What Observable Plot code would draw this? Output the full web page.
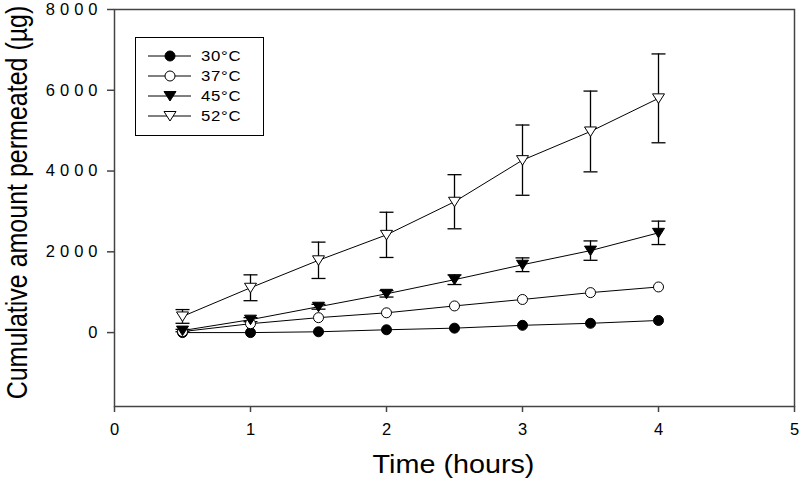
<!DOCTYPE html>
<html><head><meta charset="utf-8">
<script src="https://cdn.jsdelivr.net/npm/d3@7"></script>
<script src="https://cdn.jsdelivr.net/npm/@observablehq/plot@0.6"></script>
<style>
body{margin:0;background:#fff}
#chart svg [aria-label="y-axis tick label"] text{letter-spacing:5px}
</style>
</head><body><div id="chart"></div>
<script>
const times = [0.5, 1, 1.5, 2, 2.5, 3, 3.5, 4];
const seriesNames = ["30°C", "37°C", "45°C", "52°C"];
const mean30 = [0, 0, 20, 70, 110, 180, 230, 300];
const mean37 = [25, 220, 370, 490, 660, 820, 990, 1130];
const mean45 = [50, 320, 640, 960, 1310, 1680, 2030, 2470];
const mean52 = [400, 1110, 1790, 2420, 3240, 4270, 4980, 5800];
const err45 = [30, 50, 60, 80, 120, 170, 240, 290];
const err52 = [170, 320, 450, 560, 670, 870, 1000, 1100];
const xTicks = [0, 1, 2, 3, 4, 5];
const yTicks = [0, 2000, 4000, 6000, 8000];
const xLabel = "Time (hours)";
const yLabel = "Cumulative amount permeated (µg)";

const triDown = {draw(c){c.moveTo(-6,-4.5);c.lineTo(6,-4.5);c.lineTo(0,5);c.closePath();}};
const circ = {draw(c){c.moveTo(5,0);c.arc(0,0,5,0,2*Math.PI);c.closePath();}};
const cap = {draw(c){c.moveTo(-7,0);c.lineTo(7,0);}};

const styles = [
  {sym: circ, fill: "black"},
  {sym: circ, fill: "white"},
  {sym: triDown, fill: "black"},
  {sym: triDown, fill: "white"}
];
const means = [mean30, mean37, mean45, mean52];
const errs = [null, null, err45, err52];

const rows = means.flatMap((m, i) => times.map((t, j) => ({s: seriesNames[i], i, t, v: m[j]})));
const errRows = errs.flatMap((e, i) => e ? times.map((t, j) => ({t, lo: means[i][j] - e[j], hi: means[i][j] + e[j]})) : []);

function legend(index, scales, values, dims) {
  const g = d3.create("svg:g").attr("aria-label", "legend");
  g.append("rect").attr("x", 135.5).attr("y", 37.5).attr("width", 128).attr("height", 98)
    .attr("fill", "white").attr("stroke", "black").attr("stroke-width", 1);
  seriesNames.forEach((name, i) => {
    const y = 56 + i * 20;
    g.append("line").attr("x1", 148).attr("x2", 191).attr("y1", y).attr("y2", y).attr("stroke", "black");
    const p = d3.path(); styles[i].sym.draw(p);
    g.append("path").attr("d", p.toString()).attr("transform", `translate(170,${y})`)
      .attr("fill", styles[i].fill).attr("stroke", "black");
    g.append("text").attr("transform", `translate(201,${y}) scale(1.2,1)`).attr("dy", "0.35em")
      .attr("text-anchor", "start").attr("font-size", 14).attr("fill", "black")
      .style("letter-spacing", "0.6px").text(name);
  });
  return g.node();
}

function titles(index, scales, values, dims) {
  const g = d3.create("svg:g").attr("aria-label", "titles");
  g.append("text").attr("transform", `translate(453.5,473) scale(1.15,1)`)
    .attr("text-anchor", "middle").attr("font-size", 25).attr("fill", "black").text(xLabel);
  g.append("text").attr("transform", `translate(27,202.5) rotate(-90) scale(1,1.2)`)
    .attr("text-anchor", "middle").attr("font-size", 25).attr("fill", "black").text(yLabel);
  return g.node();
}

const chart = Plot.plot({
  width: 799, height: 479,
  marginLeft: 114, marginRight: 5, marginTop: 9, marginBottom: 73,
  style: {fontFamily: "'Liberation Sans', Arial, sans-serif", background: "white", color: "black"},
  x: {domain: [0, 5]},
  y: {domain: [-1830, 8000]},
  marks: [
    Plot.axisX(xTicks, {tickSize: 6, tickPadding: 11, fontSize: 16.5, label: null, stroke: "#444", strokeWidth: 1.5, tickFormat: d => String(d)}),
    Plot.axisY(yTicks, {tickSize: 7, tickPadding: 5, fontSize: 16.5, label: null, stroke: "#444", strokeWidth: 1.5, tickFormat: d => String(d)}),
    Plot.frame({stroke: "#444", strokeWidth: 1.5}),
    Plot.ruleX(errRows, {x: "t", y1: "lo", y2: "hi", stroke: "black", strokeWidth: 1.3}),
    Plot.dot(errRows, {x: "t", y: "hi", symbol: cap, stroke: "black", strokeWidth: 1.3, fill: "none"}),
    Plot.dot(errRows, {x: "t", y: "lo", symbol: cap, stroke: "black", strokeWidth: 1.3, fill: "none"}),
    Plot.line(rows, {x: "t", y: "v", z: "s", stroke: "black", strokeWidth: 1}),
    ...styles.map((st, i) => Plot.dot(rows.filter(d => d.i === i), {x: "t", y: "v", symbol: st.sym, fill: st.fill, stroke: "black", strokeWidth: 1})),
    titles,
    legend
  ]
});
document.getElementById("chart").append(chart);
</script>
</body></html>
